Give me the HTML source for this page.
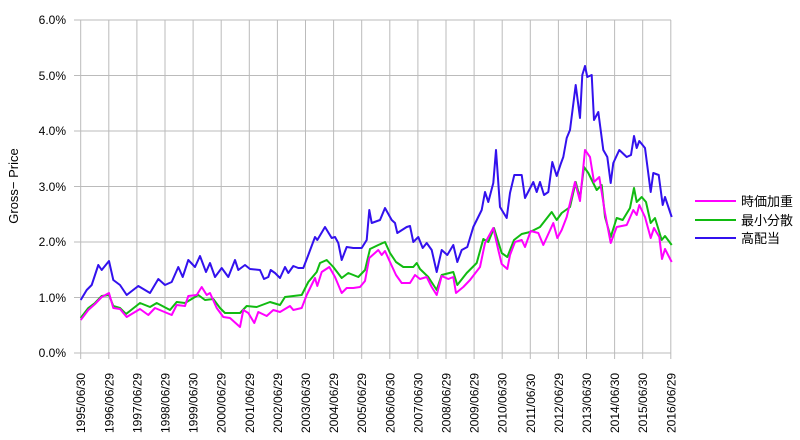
<!DOCTYPE html>
<html><head><meta charset="utf-8"><style>
body{margin:0;background:#fff;}
svg{display:block;font-family:"Liberation Sans","Noto Sans CJK JP",sans-serif;}
</style></head><body>
<svg width="800" height="440" viewBox="0 0 800 440" xmlns="http://www.w3.org/2000/svg">
<g stroke="#bbb" stroke-width="1">
<line x1="74" y1="20" x2="671" y2="20"/><line x1="74" y1="75.5" x2="671" y2="75.5"/><line x1="74" y1="131" x2="671" y2="131"/><line x1="74" y1="186.5" x2="671" y2="186.5"/><line x1="74" y1="242" x2="671" y2="242"/><line x1="74" y1="297.5" x2="671" y2="297.5"/><line x1="74" y1="353" x2="671" y2="353"/>
<g id="vg"></g>
</g>
<g id="xl" font-size="12" fill="#000"></g>
<g font-size="12" fill="#000" text-anchor="end">
<text x="66" y="24">6.0%</text><text x="66" y="80">5.0%</text><text x="66" y="135">4.0%</text><text x="66" y="191">3.0%</text><text x="66" y="246">2.0%</text><text x="66" y="302">1.0%</text><text x="66" y="357">0.0%</text>
</g>
<text transform="translate(18,186) rotate(-90)" font-size="13" text-anchor="middle">Gross− Price</text>
<g fill="none" stroke-width="2" stroke-linejoin="round">
<polyline stroke="#3311ee" points="80.7,300 86.7,290 91.7,285 98.3,265 101.7,270 109,261 113.3,280 120,285 126.7,295 138.3,286 150,293 158.3,279 165,285 171.7,282 178.3,267 182.7,277 188.3,260 195,267 200,256 206,272 210,263 215,277 221.7,268 228.3,277 235,260 238.3,270 245,265 250,269 260,270 264,279 268.3,277 270.7,270 275,273 280,278 285,267 288.3,273 293.3,266 298.3,268 303.3,268 308.3,255 315,237 317.3,240 325,227 331.7,238 335,237 338.3,243 341.7,260 346.7,247 353.3,248 361.7,248 366.7,240 369.3,210 371.7,223 380,220 385,208 391.7,220 395,223 397.3,233 406.7,227 410,226 413.3,242 418.3,237 422.7,248 426.7,243 431.7,250 436.7,272 441.7,250 447.3,255 453.3,245 457.3,262 461.7,250 467.3,247 473.3,227 481.7,210 485,192 488.3,202 493.3,183 496,150 500,207 506.7,218 510,193 514.3,175 521.7,175 525,198 533.3,182 536.7,192 540,182 544,195 548.3,192 552.3,162 556.7,176 560.7,164 563.3,157 566.7,138 570,130 575.7,85 580,118 582.3,75 585,66 587.3,77 591.7,75 594,120 598.3,112 603.3,150 607.3,157 610.7,183 613.3,163 619.3,150 626.7,157 631,155 634,136 636.7,148 639.3,141 645,148 650.7,192 653.3,173 658.7,175 662.7,205 665,197 671.7,217"/>
<polyline stroke="#11bb11" points="80.7,318 88.3,308 95,303 101.7,296 109,295 113.3,306 120,308 126,314 140,303 150,307 156.7,303 170,310 176.7,302 185,303 198.3,295 205,300 213.3,299 220,308 225,313 240,313 246.7,306 256.7,307 270,302 280,305 285,297 301.7,295 308.3,282 316.7,272 320,263 326.7,260 333.3,267 341.7,278 348.3,273 358.3,277 365,270 370,249 378.3,245 385,242 390,253 396,262 403.3,267 413.3,267 416.7,263 420,269 428.3,277 436.7,290 441.7,275 453.3,272 457.3,285 466.7,273 476.7,263 483.3,239 488.3,242 494,228 501.7,253 507.3,257 514,240 521.7,234 530,232 540,227 551.7,212 556.7,220 561.7,213 570,207 575.7,182 580,198 584,167 588.3,173 596.7,190 601.7,185 605,217 610.7,237 616.7,218 622.7,220 630,208 634,188 636.7,202 641.7,197 646,202 650.7,223 655,218 661.7,240 665,236 671.7,245"/>
<polyline stroke="#ff00ff" points="80.7,320 88.3,310 95,304 101.7,297 109,293 113.3,308 120,309 126.7,317 140,309 148.3,315 155,308 171.7,315 176.7,305 185,306 188.3,296 196.7,295 201.7,287 206.7,295 210,293 216.7,308 223.3,317 230,318 240,327 243.3,310 248.3,313 254.3,323 258.3,312 266.7,316 273.3,310 280,312 290,306 293.3,310 301.7,308 306.7,295 315,278 317.3,286 321.7,272 329.3,267 335,277 341.7,293 346.7,288 353.3,288 360,287 365,281 369.3,258 378.3,250 381.7,255 385,251 390,262 396,275 401.7,283 410,283 415,275 420,279 426.7,277 431.7,287 436.7,295 441.7,276 448.3,279 453.3,277 456,293 463.3,287 470,280 480,267 485,243 493.3,228 498.3,250 501.7,264 507.3,269 510,255 515,242 521.7,240 525,247 530.7,231 538.3,233 543.3,245 553.3,223 557.3,238 561.7,230 566.7,217 575,182 580,201 585,150 590,157 594,182 599.3,177 605,213 610.7,243 616.7,227 626.7,225 633.3,210 636.7,215 639.3,205 645,217 650.7,238 654,228 659.3,237 662,259 665,249 671.7,262"/>
</g>
<g stroke-width="2">
<line x1="695" y1="201" x2="736" y2="201" stroke="#ff00ff"/>
<line x1="695" y1="220" x2="736" y2="220" stroke="#11bb11"/>
<line x1="695" y1="238" x2="736" y2="238" stroke="#3311ee"/>
</g>
<g font-size="13" fill="#000">
<text x="741" y="206">時価加重</text><text x="741" y="225">最小分散</text><text x="741" y="243">高配当</text>
</g>
</svg>
<script>
var vg=document.getElementById('vg'),xl=document.getElementById('xl');
var labs=["1995/06/30","1996/06/29","1997/06/29","1998/06/29","1999/06/30","2000/06/29","2001/06/29","2002/06/29","2003/06/30","2004/06/29","2005/06/29","2006/06/30","2007/06/30","2008/06/29","2009/06/29","2010/06/30","2011/06/30","2012/06/29","2013/06/30","2014/06/30","2015/06/30","2016/06/29"];
var ns="http://www.w3.org/2000/svg";
for(var i=0;i<22;i++){var x=80.7+i*28.1;
var l=document.createElementNS(ns,'line');l.setAttribute('x1',x);l.setAttribute('x2',x);l.setAttribute('y1',20);l.setAttribute('y2',359);vg.appendChild(l);
var t=document.createElementNS(ns,'text');t.setAttribute('transform','translate('+(x+4.5)+',433) rotate(-90)');t.textContent=labs[i];xl.appendChild(t);}
</script>
</body></html>
